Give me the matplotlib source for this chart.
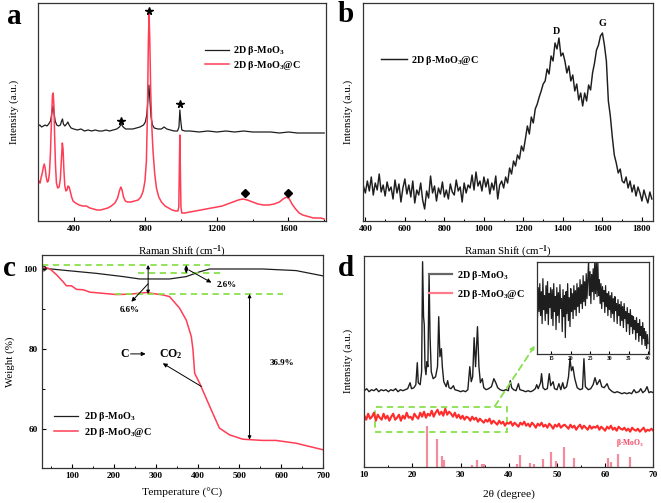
import numpy as np
import matplotlib
matplotlib.use("Agg")
import matplotlib.pyplot as plt
from matplotlib.ticker import MultipleLocator, NullLocator

plt.rcParams["font.family"] = ["Liberation Serif", "DejaVu Serif"]
plt.rcParams["font.weight"] = "bold"
plt.rcParams["mathtext.fontset"] = "custom"
plt.rcParams["mathtext.rm"] = "Liberation Serif:bold"
plt.rcParams["mathtext.it"] = "Liberation Serif:bold"
plt.rcParams["mathtext.bf"] = "Liberation Serif:bold"
plt.rcParams["mathtext.default"] = "rm"

# ---------------- panel a: Raman spectra ----------------
raman_black_x = [200, 210, 220, 230, 240, 250, 260, 270, 278, 284, 290, 296, 305, 315, 325, 332, 337,
                 342, 350, 360, 367, 374, 385, 400, 420, 440, 460, 480, 500, 520, 540, 560, 580, 600,
                 620, 640, 655, 666, 676, 690, 710, 730, 750, 770, 790, 800, 808, 814, 820, 826, 832,
                 840, 850, 870, 890, 905, 920, 940, 960, 980, 988, 993, 998, 1004, 1020, 1050, 1100,
                 1150, 1200, 1250, 1300, 1350, 1400, 1450, 1500, 1550, 1600, 1650, 1700, 1750, 1800]
raman_black_y = [95, 96, 94, 95, 96, 95, 97, 100, 108, 115, 108, 100, 96, 95, 96, 100, 102,
                 97, 95, 97, 99, 96, 93, 92, 91, 92, 90, 91, 90, 91, 90, 90, 91, 90,
                 91, 92, 94, 97, 94, 92, 92, 92, 93, 94, 96, 99, 106, 120, 136, 120, 104,
                 96, 93, 92, 92, 94, 92, 91, 90, 90, 94, 111, 100, 91, 90, 90, 89,
                 90, 89, 90, 89, 90, 89, 89, 89, 88, 89, 88, 88, 88, 88]

raman_red_x = [200, 206, 212, 218, 224, 230, 235, 240, 246, 252, 258, 264, 270, 276, 281, 285, 289,
               293, 298, 303, 310, 318, 325, 331, 336, 340, 345, 350, 356, 362, 368, 374, 380, 388,
               396, 410, 430, 450, 470, 490, 510, 530, 550, 570, 590, 610, 630, 645, 655, 663, 670,
               678, 688, 700, 720, 740, 760, 775, 788, 798, 806, 812, 817, 821, 825, 830, 836, 843,
               852, 862, 875, 890, 910, 930, 950, 970, 982, 987, 990, 993, 996, 999, 1004, 1020,
               1050, 1080, 1110, 1140, 1170, 1200, 1230, 1260, 1290, 1320, 1345, 1370, 1400, 1430,
               1460, 1490, 1520, 1550, 1570, 1590, 1605, 1620, 1640, 1660, 1680, 1700, 1720, 1740,
               1760, 1780, 1800]
raman_red_y = [36, 40, 38, 44, 48, 54, 57, 53, 44, 39, 40, 48, 70, 105, 126, 128, 115,
               85, 55, 38, 33, 34, 42, 62, 78, 72, 50, 35, 30, 31, 35, 34, 30, 24,
               20, 18, 16, 15, 15, 13, 12, 11, 11, 12, 13, 15, 18, 23, 30, 34, 31,
               24, 20, 19, 19, 20, 21, 24, 30, 40, 60, 110, 180, 207, 180, 130, 95, 70,
               48, 33, 24, 19, 15, 13, 11, 10, 10, 14, 50, 86, 50, 14, 8, 8,
               9, 10, 11, 12, 13, 14, 15, 17, 19, 21, 22, 21, 19, 17,
               16, 16, 17, 19, 22, 24, 22, 17, 12, 8, 6, 5, 4, 3,
               3, 3, 2]

star_x = [666, 820, 995]
star_y = [100, 210, 117]
diamond_x = [1357, 1600]
diamond_y = [28, 28]

# ---------------- panel b: Raman of carbon (D / G) ----------------
carbon_x = np.arange(390, 1851, 10)
carbon_y = [35, 28, 40, 30, 44, 26, 38, 31, 47, 29, 36, 25,
            39, 30, 34, 22, 41, 28, 37, 19, 33, 42,
            27, 36, 24, 40, 18, 31, 26, 38, 21, 12,
            30, 23, 45, 28, 35, 20, 33, 27, 39, 24,
            31, 22, 37, 29, 26, 41, 30, 34, 19, 38,
            28, 36, 33, 46, 31, 49, 35, 40, 30, 44,
            34, 42, 27, 38, 31, 45, 22, 36, 40, 33,
            44, 38, 53, 47, 60, 55, 66, 62, 75, 70,
            82, 95, 87, 104, 98, 112, 117, 124, 130, 137,
            140, 152, 147, 165, 160, 178, 172, 183, 165, 168,
            160, 148, 155, 140, 146, 130, 137, 121, 128, 115,
            128, 120, 136, 131, 148, 158, 171, 176, 185, 188,
            176, 160, 120, 105, 84, 66, 58, 48, 52, 40,
            38, 44, 33, 40, 29, 36, 25, 34, 28, 20,
            31, 24, 18, 29, 22]

# ---------------- panel c: TGA ----------------
tga_black_t = [32, 79, 159, 222, 262, 333, 373, 405, 429, 555, 635, 698]
tga_black_w = [100.2, 99.7, 98.9, 98.1, 97.5, 97.5, 98.1, 99.3, 100.0, 100.0, 99.6, 98.3]
tga_red_t = [32, 48, 64, 79, 87, 99, 111, 127, 143, 175, 206, 238, 278, 317, 333, 357, 373,
             385, 389, 393, 405, 429, 452, 476, 508, 555, 587, 635, 698]
tga_red_w = [100.6, 100.0, 98.5, 96.8, 95.8, 95.8, 94.9, 94.8, 94.2, 93.9, 93.6, 93.7, 94.1,
             93.5, 93.1, 90.2, 87.2, 83.1, 79.8, 73.9, 71.4, 65.6, 60.2, 58.5, 57.4, 57.1,
             57.1, 56.4, 54.8]

# ---------------- panel d: XRD ----------------
xrd_black_x = [10.0, 10.5, 11.0, 11.5, 12.0, 12.5, 13.0, 13.5, 14.0, 14.5, 15.0, 15.5, 16.0, 16.5,
               17.0, 17.5, 18.0, 18.5, 19.0, 19.5, 19.8, 20.3, 20.7, 21.0, 21.2, 21.6, 21.9, 22.1,
               22.3, 22.45, 22.6, 22.8, 23.0, 23.2, 23.45, 23.65, 23.9, 24.3, 24.8, 25.2, 25.45,
               25.7, 26.0, 26.2, 26.5, 27.0, 27.3, 27.6, 28.0, 28.5, 28.8, 29.5, 30.0, 30.5, 31.0,
               31.5, 31.9, 32.2, 32.5, 32.8, 33.1, 33.5, 33.8, 34.1, 34.5, 34.8, 35.3, 35.8, 36.4,
               36.9, 37.3, 37.7, 38.2, 38.8, 39.4, 39.9, 40.3, 40.6, 41.0, 41.5, 42.0, 42.3, 43.0,
               43.5, 44.0, 44.5, 45.0, 45.5, 45.8, 46.1, 46.6, 46.8, 47.1, 47.5, 48.0, 48.4, 48.7,
               49.2, 49.5, 50.0, 50.4, 50.8, 51.2, 51.5, 52.0, 52.4, 52.7, 53.0, 53.3, 53.7, 54.2,
               54.8, 55.3, 55.6, 55.9, 56.5, 57.0, 57.5, 57.9, 58.3, 58.9, 59.3, 59.8, 60.4, 60.8,
               61.5, 62.0, 62.5, 63.0, 63.5, 64.0, 64.5, 65.0, 65.5, 66.0, 66.4, 67.0, 67.4, 67.8,
               68.3, 68.7, 69.1, 69.5, 70.0]
xrd_black_y = [76, 78, 75, 77, 76, 78, 75, 77, 76, 77, 75, 77, 76, 78,
               75, 77, 76, 77, 78, 84, 78, 79, 82, 104, 84, 82, 95, 205,
               150, 142, 100, 92, 105, 100, 192, 130, 95, 88, 90, 100, 150,
               110, 118, 100, 85, 80, 86, 79, 78, 81, 77, 76, 75, 76, 75,
               77, 100, 85, 90, 129, 100, 140, 100, 84, 88, 79, 77, 78, 80,
               88, 84, 79, 77, 76, 77, 76, 86, 79, 77, 76, 83, 77, 76,
               75, 76, 75, 76, 78, 82, 78, 84, 93, 79, 77, 78, 93, 81,
               85, 78, 77, 83, 77, 84, 78, 80, 90, 108, 96, 100, 88, 79,
               77, 78, 108, 80, 77, 78, 82, 89, 82, 87, 80, 79, 83, 78,
               75, 74, 75, 74, 73, 74, 73, 74, 73, 77, 74, 75, 78, 74,
               76, 80, 74, 75, 74]

xrd_red_x = np.linspace(10, 70, 151)
xrd_red_y = [51, 47, 53, 48, 50, 54, 46, 52, 49, 47, 53, 48, 51, 46, 50,
             53, 47, 49, 52, 46, 51, 48, 54, 49, 50, 47, 53, 50, 48, 54,
             50, 55, 49, 53, 51, 56, 50, 54, 57, 52, 55, 51, 58, 52, 55,
             53, 50, 54, 49, 52, 48, 51, 47, 50, 49, 46, 50, 47, 49, 45,
             48, 46, 44, 47, 45, 48, 43, 46, 44, 42, 46, 43, 45, 41, 44,
             43, 45, 41, 44, 42, 40, 44, 42, 45, 41, 43, 40, 44, 42, 39,
             43, 41, 44, 40, 42, 39, 43, 41, 38, 42, 40, 43, 39, 41, 42,
             40, 38, 42, 39, 41, 37, 40, 42, 38, 41, 39, 37, 41, 38, 40,
             39, 41, 37, 40, 38, 36, 40, 38, 41, 37, 39, 36, 40, 38, 37,
             39, 36, 38, 35, 39, 37, 36, 38, 35, 37, 39, 35, 37, 36, 38,
             36]

ref_pos = [23.1, 25.0, 26.05, 26.6, 32.3, 33.4, 34.4, 34.8, 41.6, 42.3, 44.4, 45.3, 47.2, 48.7,
           49.8, 51.5, 53.5, 60.5, 61.2, 62.7, 65.2]
ref_int = [41, 28, 11, 7, 2, 7, 2.3, 3, 2.3, 12, 4, 2.7, 8, 15,
           6, 20, 9, 9, 4.3, 13, 10]

inset_x = np.linspace(11.2, 40.0, 145)
inset_y = [60, 36, 66, 42,
           70, 38, 62, 30, 75, 44, 58, 33, 68, 40, 72, 29, 60, 46, 66,
           35, 64, 28, 70, 42, 57, 24, 66, 38, 61, 31, 69, 45, 55, 22,
           64, 37, 58, 16, 62, 40, 70, 33, 56, 27, 65, 42, 60, 35, 68,
           44, 63, 38, 70, 47, 66, 41, 74, 50, 69, 45, 78, 52, 72, 48,
           80, 55, 75, 92, 58, 82, 50, 79, 62, 85, 54, 92, 60, 92, 57,
           92, 58, 74, 50, 70, 45, 67, 52, 63, 41, 68, 47, 60, 38, 62,
           44, 58, 36, 61, 40, 55, 32, 57, 43, 50, 30, 54, 38, 49, 28,
           52, 33, 47, 26, 50, 35, 42, 22, 46, 30, 40, 19, 44, 27, 38,
           20, 37, 24, 33, 14, 36, 21, 30, 12, 34, 18, 27, 9, 31, 15,
           25, 8, 22, 5, 19, 10]

BLACK = "#1e1e1e"
RED = "#ff3d55"
RED_XRD = "#ff2b2b"
PINK = "#f48a9e"
GREEN = "#88e04c"
W, H = 661, 503


def px_axes(fig, left, top, right, bottom):
    return fig.add_axes([left / W, 1 - bottom / H, (right - left) / W, (bottom - top) / H])


def style(ax, fs=6.7):
    for s in ax.spines.values():
        s.set_linewidth(0.9)
        s.set_color("#333333")
    ax.tick_params(which="both", direction="in", labelsize=fs, pad=3)
    ax.tick_params(which="major", length=3, width=0.8)
    ax.tick_params(which="minor", length=1.8, width=0.7)


fig = plt.figure(figsize=(W / 100, H / 100), dpi=100)
lfs = 7.3
yfs = 7.8

# ---- a ----
ax = px_axes(fig, 38, 3, 326, 221)
ax.plot(raman_black_x, raman_black_y, color=BLACK, lw=0.9, label=r"2D β-MoO$_3$")
ax.plot(raman_red_x, raman_red_y, color=RED, lw=1.1, label=r"2D β-MoO$_3$@C")
ax.plot(star_x, star_y, ls="none", marker="*", ms=5.5, color="black")
ax.plot(diamond_x, diamond_y, ls="none", marker="D", ms=3.8, color="black")
ax.set_xlim(200, 1810)
ax.set_ylim(0, 218)
ax.xaxis.set_major_locator(MultipleLocator(400))
ax.xaxis.set_minor_locator(MultipleLocator(200))
ax.yaxis.set_major_locator(NullLocator())
style(ax)
ax.set_xlabel(r"Raman Shift (cm$^{-1}$)", fontsize=yfs)
ax.set_ylabel("Intensity (a.u.)", fontsize=yfs)
ax.xaxis.set_label_coords(0.5, -0.105)
ax.yaxis.set_label_coords(-0.066, 0.5)
ax.legend(loc="upper left", bbox_to_anchor=(0.58, 0.81), frameon=False, fontsize=lfs,
          handlelength=2.4, handletextpad=0.4, labelspacing=0.15, borderpad=0, borderaxespad=0)

# ---- b ----
ax = px_axes(fig, 363, 3, 653, 221)
ax.plot(carbon_x, carbon_y, color=BLACK, lw=1.05, label=r"2D β-MoO$_3$@C")
ax.set_xlim(388, 1856)
ax.set_ylim(0, 218)
ax.xaxis.set_major_locator(MultipleLocator(200))
ax.xaxis.set_minor_locator(MultipleLocator(100))
ax.yaxis.set_major_locator(NullLocator())
style(ax)
ax.text(1369, 190, "D", fontsize=lfs, ha="center", va="center")
ax.text(1598, 197, "G", fontsize=lfs, ha="center", va="center")
ax.set_xlabel(r"Raman Shift (cm$^{-1}$)", fontsize=yfs)
ax.set_ylabel("Intensity (a.u.)", fontsize=yfs)
ax.xaxis.set_label_coords(0.5, -0.105)
ax.yaxis.set_label_coords(-0.034, 0.5)
ax.legend(loc="upper left", bbox_to_anchor=(0.062, 0.767), frameon=False, fontsize=lfs,
          handlelength=2.6, handletextpad=0.4, borderpad=0, borderaxespad=0)

# ---- c ----
ax = px_axes(fig, 41.7, 255, 323.3, 468)
ax.plot(tga_black_t, tga_black_w, color=BLACK, lw=0.9, label=r"2D β-MoO$_3$")
ax.plot(tga_red_t, tga_red_w, color=RED, lw=1.1, label=r"2D β-MoO$_3$@C")
ax.plot(tga_black_t[0], tga_black_w[0], marker="o", ms=3.5, mfc="none", mec=BLACK, mew=0.7)
ax.set_xlim(28, 700)
ax.set_ylim(50.2, 103.5)
ax.xaxis.set_major_locator(MultipleLocator(100))
ax.xaxis.set_minor_locator(MultipleLocator(50))
ax.yaxis.set_major_locator(MultipleLocator(20))
ax.yaxis.set_minor_locator(MultipleLocator(10))
style(ax)
dash = dict(color=GREEN, lw=1.3, ls=(0, (3.5, 2.5)))
ax.plot([28, 429], [101, 101], **dash)
ax.plot([258, 464], [98.9, 98.9], **dash)
ax.plot([202, 603], [93.75, 93.75], **dash)
dbl = dict(arrowstyle="<|-|>", color="black", lw=0.7, mutation_scale=5, shrinkA=0, shrinkB=0)
one = dict(arrowstyle="-|>", color="black", lw=0.7, mutation_scale=6, shrinkA=0, shrinkB=0)
ax.annotate("", xy=(282, 101), xytext=(282, 93.75), arrowprops=dbl)
ax.annotate("", xy=(373, 101), xytext=(373, 98.9), arrowprops=dbl)
ax.annotate("", xy=(524, 93.75), xytext=(524, 57.3), arrowprops=dbl)
ax.annotate("", xy=(242, 91.8), xytext=(282, 96.3), arrowprops=one)
ax.annotate("", xy=(433, 96.6), xytext=(379, 99.75), arrowprops=one)
ax.annotate("", xy=(317, 76.4), xytext=(409, 70.6), arrowprops=one)
ax.annotate("", xy=(276, 78.75), xytext=(240, 78.75), arrowprops=one)
ax.text(238, 89.7, "6.6%", fontsize=6.5, ha="center", va="center")
ax.text(470, 96.0, "2.6%", fontsize=6.5, ha="center", va="center")
ax.text(601, 76.4, "36.9%", fontsize=6.5, ha="center", va="center")
ax.text(226, 78.75, "C", fontsize=8.5, ha="center", va="center")
ax.text(336, 78.75, r"CO$_2$", fontsize=8.5, ha="center", va="center")
ax.set_xlabel("Temperature (°C)", fontsize=lfs + 0.9)
ax.set_ylabel("Weight (%)", fontsize=yfs)
ax.xaxis.set_label_coords(0.5, -0.095)
ax.yaxis.set_label_coords(-0.095, 0.5)
ax.legend(loc="upper left", bbox_to_anchor=(0.045, 0.27), frameon=False, fontsize=lfs,
          handlelength=2.3, handletextpad=0.6, labelspacing=0.2, borderpad=0, borderaxespad=0)

# ---- d ----
ax = px_axes(fig, 364.3, 256, 653.3, 466.7)
ax.plot(xrd_black_x, xrd_black_y, color=BLACK, lw=1.0)
ax.plot(xrd_red_x, xrd_red_y, color=RED_XRD, lw=1.5)
ax.vlines(ref_pos, 0, ref_int, color=PINK, lw=1.6)
ax.plot([], [], color="#666666", lw=1.6, label=r"2D β-MoO$_3$")
ax.plot([], [], color="#ff7c8c", lw=1.6, label=r"2D β-MoO$_3$@C")
ax.set_xlim(10, 70)
ax.set_ylim(0, 210.7)
ax.xaxis.set_major_locator(MultipleLocator(10))
ax.xaxis.set_minor_locator(MultipleLocator(5))
ax.yaxis.set_major_locator(NullLocator())
style(ax)
ax.add_patch(plt.Rectangle((12.3, 35), 27.3, 25, fill=False, ec=GREEN, lw=1.3, ls=(0, (3.5, 2.5))))
ax.annotate("", xy=(45.4, 121), xytext=(37.1, 60.5),
            arrowprops=dict(arrowstyle="-|>", color=GREEN, lw=1.3, ls=(0, (3.5, 2.5)),
                            mutation_scale=6, shrinkA=0, shrinkB=0))
ax.text(65.2, 24, r"β-MoO$_3$", color="#f04a64", fontsize=5.5, ha="center", va="center")
ax.set_xlabel("2θ (degree)", fontsize=lfs + 0.9)
ax.set_ylabel("Intensity (a.u.)", fontsize=yfs)
ax.xaxis.set_label_coords(0.5, -0.11)
ax.yaxis.set_label_coords(-0.04, 0.5)
ax.legend(loc="upper left", bbox_to_anchor=(0.225, 0.94), frameon=False, fontsize=lfs,
          handlelength=2.2, handletextpad=0.5, labelspacing=0.6, borderpad=0, borderaxespad=0)

# inset
axi = px_axes(fig, 536.7, 261.7, 649.3, 353.5)
axi.plot(inset_x, inset_y, color=BLACK, lw=0.9)
axi.set_xlim(11.2, 40.3)
axi.set_ylim(0, 92)
axi.xaxis.set_major_locator(MultipleLocator(5))
axi.yaxis.set_major_locator(NullLocator())
style(axi, fs=4)
axi.tick_params(which="major", length=2, pad=1.5)

# panel letters
for lab, (px, py) in zip("abcd", [(14, 16), (346, 14), (9, 268), (346, 268)]):
    fig.text(px / W, 1 - py / H, lab, fontsize=21, fontweight="bold", ha="center", va="center")

fig.savefig("out.png", dpi=100)
